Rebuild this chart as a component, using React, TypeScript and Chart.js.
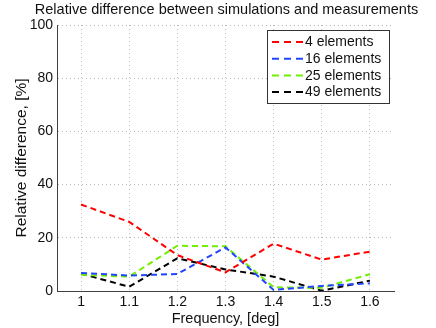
import React, { useEffect, useRef } from 'react';
import { Chart, registerables } from 'chart.js';

Chart.register(...registerables);

const chartTitle = 'Relative difference between simulations and measurements';
const xAxisTitle = 'Frequency, [deg]';
const yAxisTitle = 'Relative difference, [%]';

const frequencies = [1, 1.1, 1.2, 1.3, 1.4, 1.5, 1.6];
const xTickLabels = ['1', '1.1', '1.2', '1.3', '1.4', '1.5', '1.6'];
const yTicks = [0, 20, 40, 60, 80, 100];

const seriesLabels = ['4 elements', '16 elements', '25 elements', '49 elements'];
const elements4 = [32.5, 26, 13.5, 7, 17.8, 11.8, 14.8];
const elements16 = [6.8, 5.8, 6.4, 16.4, 0.4, 1.9, 2.9];
const elements25 = [6.1, 5.4, 17, 16.8, 1.4, 1.2, 6.3];
const elements49 = [6.5, 1.6, 12.3, 8.1, 5.4, 0.1, 3.9];
const seriesColors = ['#ff0000', '#2246ff', '#6ef000', '#000000'];

const FONT = '"Liberation Sans", Arial, Helvetica, sans-serif';

const overlayPlugin = {
  id: 'overlay',
  afterDraw(chart: any) {
    const { ctx, chartArea } = chart;
    ctx.save();
    // title
    ctx.font = `14.5px ${FONT}`;
    ctx.fillStyle = '#111';
    ctx.textAlign = 'center';
    ctx.textBaseline = 'alphabetic';
    ctx.fillText(chartTitle, (chartArea.left + chartArea.right) / 2 + 1, 14);

    // legend box inside the plot
    const bx = 267.5, by = 30.5, bw = 122, bh = 73;
    ctx.fillStyle = '#ffffff';
    ctx.fillRect(bx, by, bw, bh);
    ctx.strokeStyle = '#333';
    ctx.lineWidth = 1;
    ctx.strokeRect(bx, by, bw, bh);
    ctx.font = `14px ${FONT}`;
    ctx.textAlign = 'left';
    ctx.textBaseline = 'middle';
    chart.data.datasets.forEach((ds: any, i: number) => {
      const y = 42 + i * 16.7;
      ctx.save();
      ctx.strokeStyle = ds.borderColor;
      ctx.lineWidth = 2;
      ctx.setLineDash([7, 5]);
      ctx.beginPath();
      ctx.moveTo(272, y);
      ctx.lineTo(303, y);
      ctx.stroke();
      ctx.restore();
      ctx.fillStyle = '#111';
      ctx.fillText(ds.label, 305, y + 0.5);
    });
    ctx.restore();
  },
};

export default function App() {
  const canvasRef = useRef<HTMLCanvasElement | null>(null);

  useEffect(() => {
    if (!canvasRef.current) return;
    const series = [elements4, elements16, elements25, elements49];
    const chart = new Chart(canvasRef.current, {
      type: 'line',
      data: {
        datasets: series.map((vals, i) => ({
          label: seriesLabels[i],
          data: frequencies.map((f, j) => ({ x: f, y: vals[j] })),
          borderColor: seriesColors[i],
          backgroundColor: seriesColors[i],
          borderWidth: 2,
          borderDash: [6, 4],
          pointRadius: 0,
          tension: 0,
          fill: false,
        })),
      },
      options: {
        responsive: false,
        animation: false,
        layout: { padding: { left: 0, right: 42, top: 25, bottom: 0 } },
        plugins: {
          legend: { display: false },
          title: { display: false },
          tooltip: { enabled: false },
        },
        scales: {
          x: {
            type: 'linear',
            min: 0.95,
            max: 1.65,
            afterBuildTicks: (scale: any) => {
              scale.ticks = frequencies.map((v) => ({ value: v }));
            },
            afterFit: (scale: any) => {
              scale.height = 37;
            },
            ticks: {
              autoSkip: false,
              maxRotation: 0,
              padding: 3,
              color: '#111',
              font: { family: FONT, size: 14 },
              callback: (v: any) => {
                const idx = frequencies.findIndex((f) => Math.abs(f - Number(v)) < 1e-6);
                return idx >= 0 ? xTickLabels[idx] : '';
              },
            },
            grid: { color: '#b8b8b8', lineWidth: 1, drawTicks: false },
            border: { display: true, color: '#404040', width: 1, dash: [1, 3] },
            title: {
              display: true,
              text: xAxisTitle,
              color: '#111',
              font: { family: FONT, size: 14.5 },
              padding: { top: 3, bottom: 0 },
            },
          },
          y: {
            type: 'linear',
            min: 0,
            max: 100,
            afterBuildTicks: (scale: any) => {
              scale.ticks = yTicks.map((v) => ({ value: v }));
            },
            afterFit: (scale: any) => {
              scale.width = 57;
            },
            ticks: {
              padding: 4,
              color: '#111',
              font: { family: FONT, size: 14 },
              callback: (v: any) => String(v),
            },
            grid: { color: '#b8b8b8', lineWidth: 1, drawTicks: false },
            border: { display: true, color: '#404040', width: 1, dash: [1, 3] },
            title: {
              display: true,
              text: yAxisTitle,
              color: '#111',
              font: { family: FONT, size: 15.5 },
              padding: { top: 12, bottom: 0 },
            },
          },
        },
      },
      plugins: [overlayPlugin],
    } as any);
    return () => chart.destroy();
  }, []);

  return (
    <div style={{ position: 'fixed', left: 0, top: 0, width: 436, height: 328, background: '#fff' }}>
      <canvas ref={canvasRef} width={436} height={328} style={{ width: 436, height: 328 }} />
    </div>
  );
}
